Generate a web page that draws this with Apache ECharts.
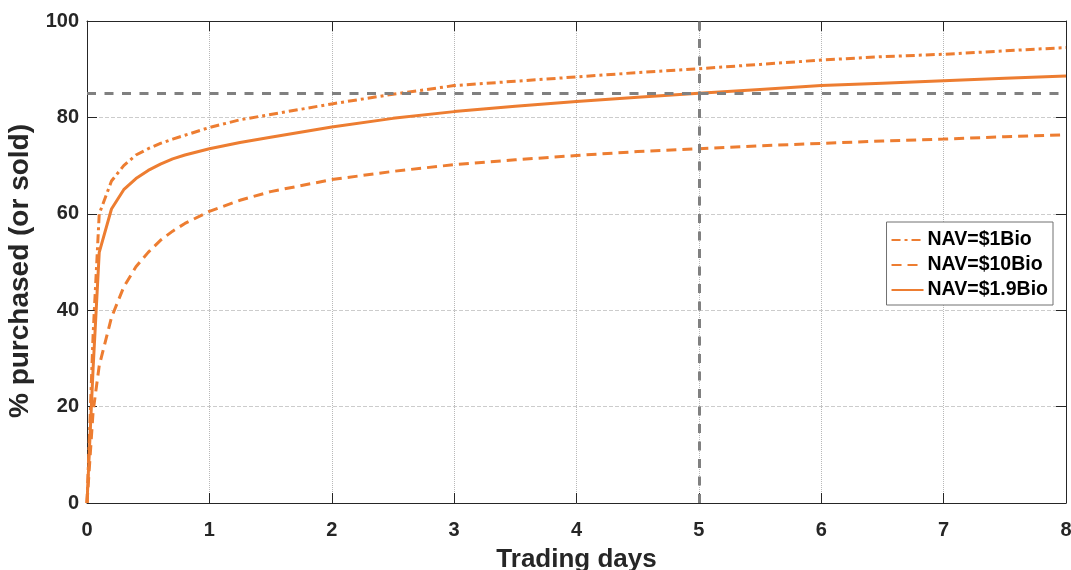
<!DOCTYPE html>
<html>
<head>
<meta charset="utf-8">
<script src="https://cdn.jsdelivr.net/npm/echarts@6/dist/echarts.min.js"></script>
<style>html,body{margin:0;padding:0;background:#fff}#c{width:1071px;height:570px}</style>
</head>
<body>
<div id="c"></div>
<script>
// Data
var days = [0, 0.05, 0.1, 0.2, 0.3, 0.4, 0.5, 0.6, 0.7, 0.8, 1.0, 1.25, 1.5, 2, 2.5, 3, 3.5, 4, 4.5, 5, 5.5, 6, 6.5, 7, 7.5, 8];
var nav1Bio = [0, 35, 60, 66.8, 70, 72.2, 73.5, 74.6, 75.5, 76.3, 77.9, 79.5, 80.6, 82.8, 84.8, 86.6, 87.5, 88.4, 89.3, 90.1, 91.0, 91.9, 92.6, 93.1, 93.8, 94.5];
var nav10Bio = [0, 19, 28.5, 38.5, 44.8, 49, 52, 54.5, 56.4, 58, 60.5, 62.8, 64.6, 67.1, 68.8, 70.2, 71.2, 72.1, 72.9, 73.5, 74.1, 74.6, 75.1, 75.5, 76.0, 76.4];
var nav19Bio = [0, 28, 52, 61, 65, 67.3, 69, 70.3, 71.4, 72.2, 73.5, 74.8, 75.9, 78.0, 79.8, 81.2, 82.3, 83.3, 84.2, 85.0, 85.8, 86.6, 87.1, 87.6, 88.1, 88.6];
var seriesNames = ['NAV=$1Bio', 'NAV=$10Bio', 'NAV=$1.9Bio'];
var xTicks = [0, 1, 2, 3, 4, 5, 6, 7, 8];
var yTicks = [0, 20, 40, 60, 80, 100];
var refY = 85;
var refX = 5;
var xTitle = 'Trading days';
var yTitle = '% purchased (or sold)';

function pairs(v) { return days.map(function (d, i) { return [d, v[i]]; }); }

var orange = '#ED7D31';
var font = '"Liberation Sans", Arial, Helvetica, sans-serif';
var dark = '#262626';

var chart = echarts.init(document.getElementById('c'), null, { renderer: 'canvas' });

var baseX = {
  type: 'value', min: xTicks[0], max: xTicks[xTicks.length - 1], interval: 1
};
var baseY = {
  type: 'value', min: yTicks[0], max: yTicks[yTicks.length - 1], interval: 20
};

chart.setOption({
  animation: false,
  backgroundColor: '#fff',
  grid: { left: 87, right: 5, top: 21, bottom: 67, containLabel: false, outerBoundsMode: 'none' },
  xAxis: [
    Object.assign({}, baseX, {
      position: 'bottom',
      name: xTitle, nameLocation: 'middle', nameGap: 44,
      nameTextStyle: { fontFamily: font, fontWeight: 'bold', fontSize: 26, color: dark },
      axisLine: { show: true, onZero: false, lineStyle: { color: dark, width: 1 } },
      axisTick: { show: true, inside: true, length: 10, lineStyle: { color: dark, width: 1 } },
      axisLabel: { fontFamily: font, fontWeight: 'bold', fontSize: 20, color: dark, margin: 17 },
      splitLine: { show: true, lineStyle: { color: '#b8b8b8', type: 'dotted', width: 1 } }
    }),
    Object.assign({}, baseX, {
      position: 'top',
      axisLine: { show: true, onZero: false, lineStyle: { color: dark, width: 1 } },
      axisTick: { show: true, inside: true, length: 10, lineStyle: { color: dark, width: 1 } },
      axisLabel: { show: false },
      splitLine: { show: false }
    })
  ],
  yAxis: [
    Object.assign({}, baseY, {
      position: 'left',
      name: yTitle, nameLocation: 'middle', nameGap: 48,
      nameTextStyle: { fontFamily: font, fontWeight: 'bold', fontSize: 28, color: dark, padding: [0, 18, 0, 0] },
      axisLine: { show: true, onZero: false, lineStyle: { color: dark, width: 1 } },
      axisTick: { show: true, inside: true, length: 10, lineStyle: { color: dark, width: 1 } },
      axisLabel: { fontFamily: font, fontWeight: 'bold', fontSize: 20, color: dark, margin: 8 },
      splitLine: { show: true, lineStyle: { color: '#cccccc', type: [4, 2], width: 1 } }
    }),
    Object.assign({}, baseY, {
      position: 'right',
      axisLine: { show: true, onZero: false, lineStyle: { color: dark, width: 1 } },
      axisTick: { show: true, inside: true, length: 10, lineStyle: { color: dark, width: 1 } },
      axisLabel: { show: false },
      splitLine: { show: false }
    })
  ],
  legend: {
    data: seriesNames,
    orient: 'vertical',
    right: 18, top: 222,
    itemWidth: 32, itemHeight: 14, itemGap: 5,
    padding: [8, 5, 5, 4],
    backgroundColor: '#fff',
    borderColor: '#707070', borderWidth: 1,
    itemStyle: { color: 'rgba(0,0,0,0)', borderWidth: 0, opacity: 0 },
    textStyle: { fontFamily: font, fontWeight: 'bold', fontSize: 19.5, color: '#000', padding: [0, 0, 0, -1] }
  },
  series: [
    {
      name: seriesNames[0], type: 'line', data: pairs(nav1Bio), symbol: 'none', smooth: false,
      lineStyle: { color: orange, width: 3, type: [9, 4, 3, 4] }, itemStyle: { color: orange }, z: 3,
      markLine: {
        silent: true, symbol: 'none', label: { show: false },
        lineStyle: { color: '#808080', width: 3, type: [9, 8.5] },
        data: [{ yAxis: refY }, { xAxis: refX }]
      }
    },
    {
      name: seriesNames[1], type: 'line', data: pairs(nav10Bio), symbol: 'none', smooth: false,
      lineStyle: { color: orange, width: 3, type: [10, 6] }, itemStyle: { color: orange }, z: 3
    },
    {
      name: seriesNames[2], type: 'line', data: pairs(nav19Bio), symbol: 'none', smooth: false,
      lineStyle: { color: orange, width: 3, type: 'solid' }, itemStyle: { color: orange }, z: 3
    }
  ]
});
</script>
</body>
</html>
